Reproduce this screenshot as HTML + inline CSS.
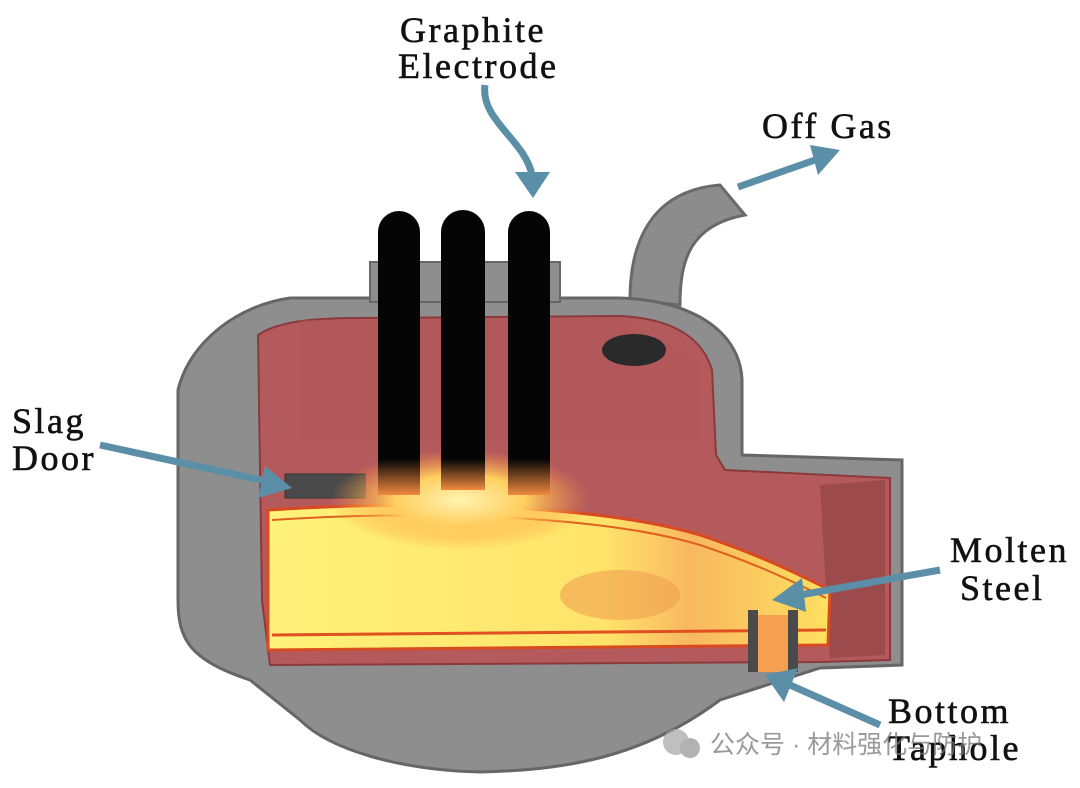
<!DOCTYPE html>
<html><head><meta charset="utf-8"><style>
html,body{margin:0;padding:0;background:#fff;}
svg{display:block}
</style></head><body>
<svg width="1080" height="788" viewBox="0 0 1080 788" xmlns="http://www.w3.org/2000/svg">
<defs>
<radialGradient id="glow" cx="0.5" cy="0.5" r="0.5">
<stop offset="0" stop-color="#fff3b0"/><stop offset="0.5" stop-color="#ffcf60"/><stop offset="1" stop-color="#ff9a40" stop-opacity="0"/>
</radialGradient>
<linearGradient id="melt" x1="0" y1="0" x2="1" y2="0">
<stop offset="0" stop-color="#fff27a"/><stop offset="0.6" stop-color="#ffe36a"/><stop offset="0.75" stop-color="#f8b860"/><stop offset="1" stop-color="#ffe060"/>
</linearGradient>
<linearGradient id="tip" x1="0" y1="0" x2="0" y2="1">
<stop offset="0" stop-color="#050505"/><stop offset="1" stop-color="#f08a40"/>
</linearGradient>
</defs>
<path d="M630 300 C630 230 660 190 720 185 L745 215 C690 225 680 260 680 305 Z" fill="#8c8c8c" stroke="#6a6a6a" stroke-width="3"/>
<path d="M178 420 L178 390 C190 340 240 305 290 298 L620 298 C690 300 740 330 742 380 L742 455 L902 460 L902 665 L820 668 L720 700 C640 760 560 770 480 772 C400 770 330 750 300 720 L250 680 C190 660 178 640 178 600 Z" fill="#8e8e8e" stroke="#666" stroke-width="3"/>
<rect x="370" y="262" width="190" height="40" fill="#8e8e8e" stroke="#666" stroke-width="2"/>
<path d="M258 335 C280 320 320 318 360 318 L620 316 C660 318 700 330 712 370 L716 455 L725 470 L890 478 L890 660 L820 662 L270 665 L262 600 Z" fill="#b55a5c" stroke="#8a3a3c" stroke-width="2"/>
<path d="M820 485 L885 480 L885 655 L830 658 Z" fill="#9c4a4c"/>
<path d="M300 320 L620 318 L700 360 L700 440 L300 440 Z" fill="#b05658" opacity="0.5"/>
<ellipse cx="634" cy="350" rx="32" ry="16" fill="#2a2a2a"/>
<rect x="285" y="474" width="80" height="24" fill="#4a4a4a" stroke="#333"/>
<path d="M268 510 C420 500 600 505 700 535 C760 555 800 575 830 590 L828 645 L268 650 Z" fill="url(#melt)" stroke="#d84a20" stroke-width="3"/>
<path d="M272 520 C420 510 600 515 700 545 C760 565 800 585 826 598" fill="none" stroke="#e06020" stroke-width="2"/>
<path d="M272 635 L826 630" stroke="#e05020" stroke-width="3"/>
<ellipse cx="460" cy="500" rx="130" ry="50" fill="url(#glow)"/>
<ellipse cx="620" cy="595" rx="60" ry="25" fill="#f0a050" opacity="0.6"/>
<rect x="748" y="610" width="10" height="62" fill="#4a4a4a"/>
<rect x="788" y="610" width="10" height="62" fill="#4a4a4a"/>
<rect x="758" y="615" width="30" height="57" fill="#f5a050"/>
<path d="M378 232 A21 21 0 0 1 420 232 L420 460 L378 460 Z" fill="#050505"/>
<path d="M441 232 A22 22 0 0 1 485 232 L485 460 L441 460 Z" fill="#050505"/>
<path d="M508 232 A21 21 0 0 1 550 232 L550 460 L508 460 Z" fill="#050505"/>
<rect x="378" y="459" width="42" height="36" fill="url(#tip)"/>
<rect x="441" y="459" width="44" height="31" fill="url(#tip)"/>
<rect x="508" y="459" width="42" height="36" fill="url(#tip)"/>
<g fill="#5b8fa8" stroke="#5b8fa8">
<path d="M485 85 C480 120 525 140 532 175" fill="none" stroke-width="7"/>
<polygon points="515,172 550,172 533,198" stroke="none"/>
<path d="M738 187 L815 160" stroke-width="7"/>
<polygon points="810,145 840,150 818,175" stroke="none"/>
<path d="M100 445 L270 482" stroke-width="7"/>
<polygon points="265,466 292,488 258,498" stroke="none"/>
<path d="M940 570 L800 595" stroke-width="7"/>
<polygon points="802,578 772,600 806,612" stroke="none"/>
<path d="M880 725 L790 685" stroke-width="7"/>
<polygon points="798,668 765,675 784,702" stroke="none"/>
</g>
<g font-family="Liberation Serif, serif" font-size="36" fill="#111" stroke="#111" stroke-width="0.6" letter-spacing="2.5">
<text x="400" y="42">Graphite</text>
<text x="398" y="78">Electrode</text>
<text x="762" y="138">Off Gas</text>
<text x="12" y="433">Slag</text>
<text x="12" y="470">Door</text>
<text x="950" y="562">Molten</text>
<text x="960" y="600">Steel</text>
<text x="888" y="723">Bottom</text>
<text x="888" y="760">Taphole</text>
</g>
<g opacity="0.75">
<circle cx="676" cy="742" r="13" fill="#aaa"/>
<circle cx="690" cy="748" r="10" fill="#999"/>
<text x="710" y="753" font-family="Liberation Sans, Noto Sans CJK SC, sans-serif" font-size="25" fill="#777">公众号 · 材料强化与防护</text>
</g>
</svg>
</body></html>
